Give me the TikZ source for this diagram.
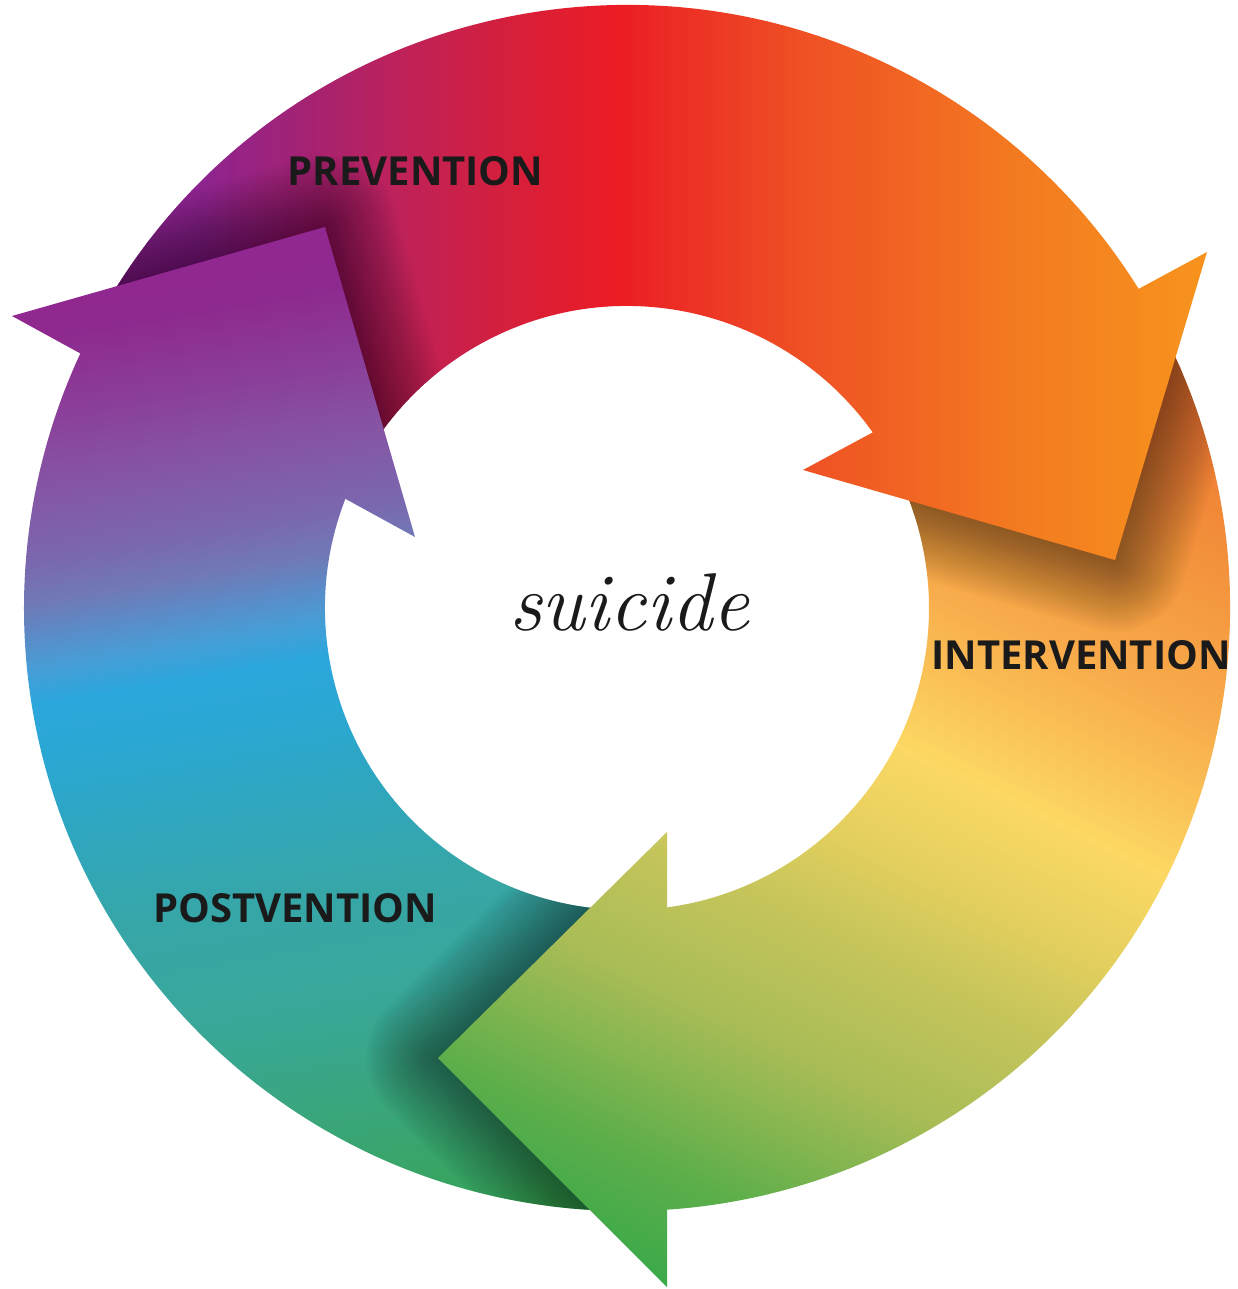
\documentclass[tikz,border=0pt]{standalone}
\usepackage{fontspec}
\newfontfamily\labelfont{Open Sans}
% red / orange (top arrow)
\definecolor{r0}{HTML}{8E2490}\definecolor{r1}{HTML}{A52272}\definecolor{r2}{HTML}{BE2259}
\definecolor{r3}{HTML}{D31F3E}\definecolor{r4}{HTML}{EC1C24}\definecolor{r5}{HTML}{EC3425}
\definecolor{r6}{HTML}{EF5024}\definecolor{r7}{HTML}{F16323}\definecolor{r8}{HTML}{F37921}
\definecolor{r9}{HTML}{F7941D}
% yellow / green (right arrow)
\definecolor{y0}{HTML}{EF7A32}\definecolor{y1}{HTML}{F4973F}\definecolor{y2}{HTML}{F8AC4B}
\definecolor{y3}{HTML}{FAC257}\definecolor{y4}{HTML}{FCD864}\definecolor{y5}{HTML}{E3CF5E}
\definecolor{y6}{HTML}{C6C55B}\definecolor{y7}{HTML}{A8BC56}\definecolor{y8}{HTML}{5BAE4A}
\definecolor{y9}{HTML}{3AA94A}
% purple / blue / teal (left arrow)
\definecolor{p0}{HTML}{922690}\definecolor{p1}{HTML}{8E2A8F}\definecolor{p2}{HTML}{8A409A}
\definecolor{p3}{HTML}{8653A3}\definecolor{p4}{HTML}{7A68AE}\definecolor{p5}{HTML}{7079B6}
\definecolor{p6}{HTML}{5A8CC8}\definecolor{p7}{HTML}{4A9BD4}\definecolor{p8}{HTML}{2CA7DD}
\definecolor{p9}{HTML}{2BA7D2}\definecolor{p10}{HTML}{2EA6C0}\definecolor{p11}{HTML}{36A6A8}
\definecolor{p12}{HTML}{39A79A}\definecolor{p13}{HTML}{3AA67C}\definecolor{p14}{HTML}{37A45F}
\definecolor{p15}{HTML}{34A353}
\definecolor{txt}{HTML}{1A1A1A}
\pgfdeclarehorizontalshading{redg}{100bp}{color(0bp)=(r0); color(27.48bp)=(r0); color(32.62bp)=(r1);
 color(36.82bp)=(r2); color(41.5bp)=(r3); color(46.92bp)=(r4); color(50.84bp)=(r5); color(55.51bp)=(r6);
 color(60.19bp)=(r7); color(65.33bp)=(r8); color(74.67bp)=(r9); color(100bp)=(r9)}
\pgfdeclarehorizontalshading{yelg}{100bp}{color(0bp)=(y0); color(26.84bp)=(y0); color(33.92bp)=(y1);
 color(39.58bp)=(y2); color(43.35bp)=(y3); color(46.89bp)=(y4); color(51.84bp)=(y5); color(56.08bp)=(y6);
 color(62.22bp)=(y7); color(69.76bp)=(y8); color(74.95bp)=(y9); color(100bp)=(y9)}
\pgfdeclarehorizontalshading{purg}{100bp}{color(0bp)=(p0); color(25.29bp)=(p0); color(28.65bp)=(p1);
 color(32.5bp)=(p2); color(35.38bp)=(p3); color(39.23bp)=(p4); color(41.15bp)=(p5); color(42.79bp)=(p6);
 color(44.04bp)=(p7); color(45.96bp)=(p8); color(48.85bp)=(p9); color(52.21bp)=(p10); color(57.02bp)=(p11);
 color(62.31bp)=(p12); color(67.6bp)=(p13); color(72.4bp)=(p14); color(74.33bp)=(p15); color(100bp)=(p15)}
\newcommand\fillred{\fill[r0] (-760,-760) rectangle (-478,760);\fill[r9] (588,-760) rectangle (760,760);
 \shade[shading=redg] (-480,-760) rectangle (590,760);}
\newcommand\fillyel{\begin{scope}[transform canvas={rotate=243.95}]\fill[y0] (-760,-760) rectangle (-458,760);
 \fill[y9] (598,-760) rectangle (760,760);\shade[shading=yelg] (-460,-760) rectangle (600,760);\end{scope}}
\newcommand\fillpur{\begin{scope}[transform canvas={rotate=279.6}]\fill[p0] (-760,-760) rectangle (-438,760);
 \fill[p15] (598,-760) rectangle (760,760);\shade[shading=purg] (-440,-760) rectangle (600,760);\end{scope}}
\newcommand\headshadow[1]{\foreach \k in {1,...,24}{\draw[black, opacity=0.021, line width=\k*6pt, line join=round] #1;}}
\tikzset{lbl/.style={inner sep=0pt, text=txt, font=\labelfont\bfseries\fontsize{40pt}{48pt}\selectfont}}
\begin{document}
\begin{tikzpicture}[x=1pt,y=1pt]
\useasboundingbox (-627,-681) rectangle (611,608);
\fill[white] (-627,-681) rectangle (611,608);
\def\bodyY{(30:603) arc[start angle=30,end angle=-92,radius=603] -- (-92:302) arc[start angle=-92,end angle=30,radius=302] -- cycle}
\def\bodyR{(150:603) arc[start angle=150,end angle=28,radius=603] -- (28:302) arc[start angle=28,end angle=150,radius=302] -- cycle}
\def\bodyP{(270:603) arc[start angle=270,end angle=150,radius=603] -- (150:302) arc[start angle=150,end angle=270,radius=302] -- cycle}
\def\headO{(580,356) -- (488,48) -- (176,138) -- cycle}
\def\headP{(-615,292) -- (-302,381) -- (-212,71) -- cycle}
\def\headG{(40,-224) -- (-189,-450) -- (40,-679) -- cycle}
% right (yellow) body and the shadow of the orange head on it
\begin{scope}\clip \bodyY; \fillyel \end{scope}
\begin{scope}\clip \bodyY; \headshadow{\headO} \end{scope}
% top (red) body and the shadow of the purple head on it
\begin{scope}\clip \bodyR; \fillred \end{scope}
\begin{scope}\clip \bodyR; \headshadow{\headP} \end{scope}
% left (purple) body and the shadow of the green head on it
\begin{scope}\clip \bodyP; \fillpur \end{scope}
\begin{scope}\clip \bodyP; \headshadow{\headG} \end{scope}
% arrow heads
\begin{scope}\clip \headO; \fillred \end{scope}
\begin{scope}\clip \headP; \fillpur \end{scope}
\begin{scope}\clip \headG; \fillyel \end{scope}
% labels
\node[lbl] (prev) at (-211.5,437) {PREVENTION};
\node[lbl] (inter) at (454,-47) {INTERVENTION};
\node[lbl] (post) at (-332,-300) {POSTVENTION};
\node[inner sep=0pt, text=txt, font=\fontsize{82pt}{90pt}\selectfont\itshape] (centre) at (2,6) {suicide};
\end{tikzpicture}
\end{document}
